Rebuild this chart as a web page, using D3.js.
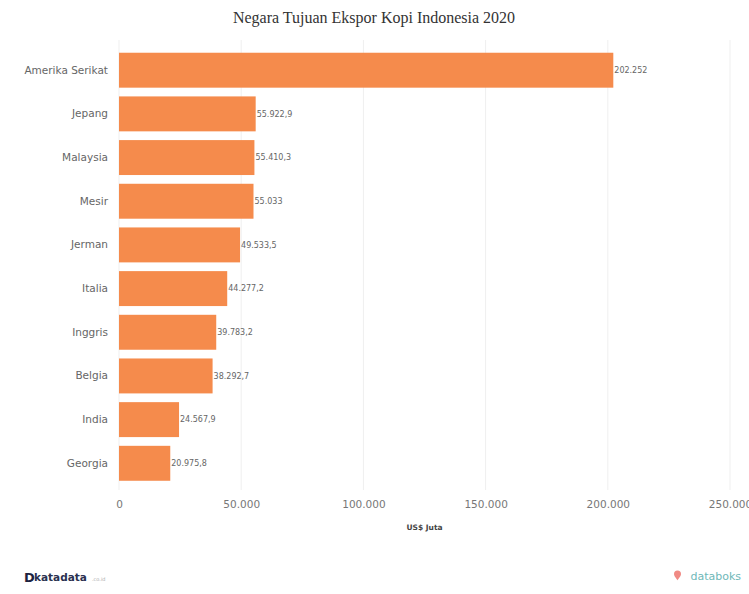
<!DOCTYPE html>
<html>
<head>
<meta charset="utf-8">
<script src="https://cdn.jsdelivr.net/npm/d3@7"></script>
<style>
  body { margin: 0; background: #fff; }
  svg { display: block; }
</style>
</head>
<body>
<div id="chart"></div>
<script>
// Negara tujuan ekspor kopi Indonesia 2020 (US$ juta)
const countries = ["Amerika Serikat", "Jepang", "Malaysia", "Mesir", "Jerman",
    "Italia", "Inggris", "Belgia", "India", "Georgia"];
const values = [202252, 55922.9, 55410.3, 55033, 49533.5,
    44277.2, 39783.2, 38292.7, 24567.9, 20975.8];
const xTicks = [0, 50000, 100000, 150000, 200000, 250000];

const width = 749, height = 594;
const sans = "'DejaVu Sans', Verdana, sans-serif";

const svg = d3.select("#chart").append("svg")
    .attr("width", width)
    .attr("height", height);

// indonesian number format: "." thousands, "," decimal
const idLocale = d3.formatLocale({ decimal: ",", thousands: ".", grouping: [3], currency: ["", ""] });
const fmtTick = idLocale.format(",");
const fmtVal = d => idLocale.format(",")(Math.round(d * 10) / 10);

const x = d3.scaleLinear()
    .domain([0, 250000])
    .range([119, 730]);

const y = d3.scaleBand()
    .domain(countries)
    .range([44, 489.5])
    .padding(0.2);

// title
svg.append("text")
    .attr("x", 374)
    .attr("y", 23)
    .attr("text-anchor", "middle")
    .style("font-family", "'Liberation Serif', 'Times New Roman', serif")
    .style("font-size", "16px")
    .style("fill", "#333")
    .text("Negara Tujuan Ekspor Kopi Indonesia 2020");

// grid lines
svg.append("g")
    .selectAll("line")
    .data(xTicks)
    .enter()
    .append("line")
    .attr("x1", d => x(d))
    .attr("x2", d => x(d))
    .attr("y1", 40)
    .attr("y2", 490)
    .style("stroke", "#efefef")
    .style("stroke-width", 1);

// x axis labels (last one runs off the right edge, as in the original)
const xAxis = svg.append("g")
    .attr("transform", "translate(0,494)")
    .call(d3.axisBottom(x).tickValues(xTicks).tickFormat(fmtTick).tickSize(0).tickPadding(7));
xAxis.select(".domain").remove();
xAxis.selectAll("text")
    .style("font-family", sans)
    .style("font-size", "10.5px")
    .style("fill", "#777");

svg.append("text")
    .attr("x", (x.range()[0] + x.range()[1]) / 2)
    .attr("y", 530)
    .attr("text-anchor", "middle")
    .style("font-family", sans)
    .style("font-size", "7.5px")
    .style("font-weight", "bold")
    .style("fill", "#444")
    .text("US$ Juta");

// y axis labels
const yAxis = svg.append("g")
    .attr("transform", "translate(119,0)")
    .call(d3.axisLeft(y).tickSize(0).tickPadding(11));
yAxis.select(".domain").remove();
yAxis.selectAll("text")
    .style("font-family", sans)
    .style("font-size", "10.5px")
    .style("fill", "#666");

// bars
svg.append("g")
    .selectAll("rect")
    .data(countries)
    .enter()
    .append("rect")
    .attr("x", x(0))
    .attr("y", d => y(d))
    .attr("width", (d, i) => x(values[i]) - x(0))
    .attr("height", y.bandwidth())
    .style("fill", "#f58b4c");

// value labels
svg.append("g")
    .selectAll("text")
    .data(countries)
    .enter()
    .append("text")
    .attr("x", (d, i) => x(values[i]) + 1)
    .attr("y", d => y(d) + y.bandwidth() / 2)
    .attr("dy", "0.35em")
    .style("font-family", sans)
    .style("font-size", "8px")
    .style("fill", "#666")
    .text((d, i) => fmtVal(values[i]));

// footer: katadata logo
const foot = svg.append("g");
foot.append("text")
    .attr("x", 24)
    .attr("y", 582)
    .style("font-family", sans)
    .style("font-size", "13px")
    .style("font-weight", "bold")
    .style("fill", "#1c2340")
    .text("D");
foot.append("text")
    .attr("x", 34)
    .attr("y", 581)
    .style("font-family", sans)
    .style("font-size", "10.5px")
    .style("font-weight", "bold")
    .style("fill", "#2a3150")
    .text("katadata");
foot.append("text")
    .attr("x", 92)
    .attr("y", 581)
    .style("font-family", sans)
    .style("font-size", "5px")
    .style("fill", "#aaa")
    .text(".co.id");

// footer: databoks logo
foot.append("path")
    .attr("d", "M674,574 a3.5,3.5 0 1,1 7,0 c0,2.5 -3.5,5.5 -3.5,6.5 c0,-1 -3.5,-4 -3.5,-6.5 z")
    .style("fill", "#f08a84");
foot.append("text")
    .attr("x", 741)
    .attr("y", 580)
    .attr("text-anchor", "end")
    .style("font-family", sans)
    .style("font-size", "11px")
    .style("fill", "#6fb8b8")
    .text("databoks");
</script>
</body>
</html>
